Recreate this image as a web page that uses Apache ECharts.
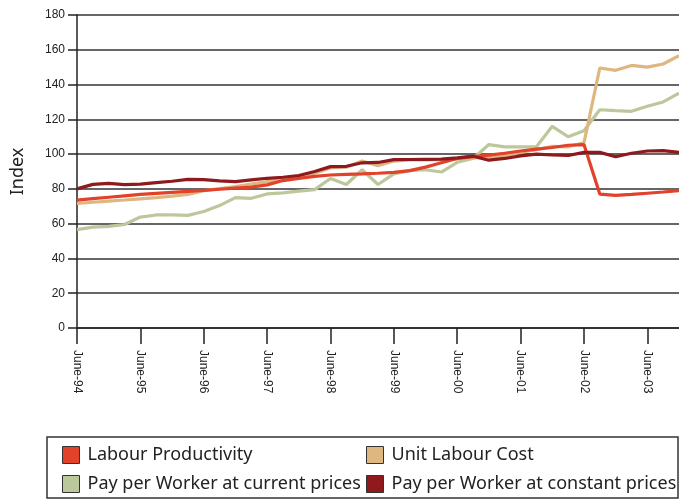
<!DOCTYPE html>
<html>
<head>
<meta charset="utf-8">
<script src="https://cdn.jsdelivr.net/npm/echarts@6/dist/echarts.min.js"></script>
<style>
  html, body { margin: 0; padding: 0; background: #fff; }
  #chart { width: 679px; height: 500px; }
</style>
</head>
<body>
<div id="chart"></div>
<script>
// quarters, June-94 .. Dec-03
var quarters = [
  'June-94', 'Sept-94', 'Dec-94', 'Mar-95',
  'June-95', 'Sept-95', 'Dec-95', 'Mar-96',
  'June-96', 'Sept-96', 'Dec-96', 'Mar-97',
  'June-97', 'Sept-97', 'Dec-97', 'Mar-98',
  'June-98', 'Sept-98', 'Dec-98', 'Mar-99',
  'June-99', 'Sept-99', 'Dec-99', 'Mar-00',
  'June-00', 'Sept-00', 'Dec-00', 'Mar-01',
  'June-01', 'Sept-01', 'Dec-01', 'Mar-02',
  'June-02', 'Sept-02', 'Dec-02', 'Mar-03',
  'June-03', 'Sept-03', 'Dec-03'
];

var labourProductivity = [
  73.5, 74.4, 75.2, 76, 76.8, 77.4, 78, 78.6, 79.2, 79.8, 80.4, 81,
  82.3, 84.8, 86, 87.2, 88, 88.3, 88.6, 89, 89.5, 90.5, 92.5, 95,
  97.5, 98.6, 99.4, 100.5, 101.8, 102.9, 103.8, 105.1, 105.5, 77, 76.3, 76.8,
  77.5, 78.2, 79
];
var unitLabourCost = [
  71.6, 72.3, 73, 73.6, 74.3, 75, 75.8, 76.8, 79, 80.2, 81.3, 82.8,
  84.2, 85.5, 87, 89, 92, 92.5, 96, 93.4, 96, 96.7, 96.7, 96.8,
  97.2, 97.8, 98.2, 99, 101, 102.5, 104.5, 104.2, 106.5, 149.5, 148.2, 151,
  150, 151.8, 156.6
];
var payCurrent = [
  56.6, 58, 58.4, 59.5, 63.8, 65, 65, 64.8, 67, 70.4, 75, 74.6,
  77.1, 77.7, 78.7, 79.6, 86, 82.5, 91, 82.5, 88.6, 90.5, 91, 89.7,
  95.3, 97.5, 105.5, 104.2, 104.2, 104.2, 116, 110, 113.5, 125.5, 125, 124.6,
  127.5, 130, 135
];
var payConstant = [
  80, 82.6, 83.2, 82.5, 82.7, 83.6, 84.4, 85.5, 85.3, 84.6, 84.2, 85.2,
  86.1, 86.7, 87.7, 90, 92.8, 93, 95, 95.2, 96.8, 96.9, 97, 97.1,
  97.8, 98.8, 96.5, 97.5, 99, 100, 99.5, 99.2, 101, 101, 98.5, 100.5,
  101.8, 102, 101
];

var names = ['Labour Productivity', 'Unit Labour Cost',
  'Pay per Worker at current prices', 'Pay per Worker at constant prices'];
var colors = ['#E2412A', '#DDB680', '#BCC89C', '#8E1A1E'];
var seriesData = [labourProductivity, unitLabourCost, payCurrent, payConstant];

var chart = echarts.init(document.getElementById('chart'));

var legendBase = {
  orient: 'vertical',
  icon: 'rect',
  itemWidth: 17,
  itemHeight: 17,
  itemGap: 11,
  padding: 0,
  top: 446,
  selectedMode: false,
  itemStyle: {borderColor: '#333', borderWidth: 1},
  textStyle: {fontFamily: 'Noto Sans', fontSize: 18, color: '#222', padding: [0, 0, 0, 3]}
};

// draw order: current pay under others, constant on top
var order = [2, 1, 0, 3];

chart.setOption({
  animation: false,
  color: colors,
  grid: {left: 77, right: 0, top: 15, bottom: 172, outerBoundsMode: 'none'},
  legend: [
    Object.assign({}, legendBase, {left: 62, data: [names[0], names[2]]}),
    Object.assign({}, legendBase, {left: 366, data: [names[1], names[3]]})
  ],
  graphic: [{
    type: 'rect',
    shape: {x: 47, y: 437, width: 631, height: 61},
    style: {fill: 'none', stroke: '#333', lineWidth: 1.5}
  }],
  xAxis: {
    type: 'category',
    boundaryGap: false,
    data: quarters,
    axisLine: {lineStyle: {color: '#222', width: 1.5}},
    axisTick: {interval: 3, length: 16, lineStyle: {color: '#222', width: 1.5}},
    axisLabel: {
      interval: 3, rotate: -90, margin: 22,
      fontFamily: 'Liberation Sans', fontSize: 12, color: '#222'
    },
    splitLine: {show: false}
  },
  yAxis: {
    type: 'value',
    min: 0, max: 180, interval: 20,
    name: 'Index',
    nameLocation: 'middle',
    nameGap: 50,
    nameTextStyle: {fontFamily: 'Noto Sans', fontSize: 18, color: '#222'},
    axisLine: {show: true, lineStyle: {color: '#222', width: 1.5}},
    axisTick: {show: true, length: 9, lineStyle: {color: '#222', width: 1.5}},
    axisLabel: {margin: 12, fontFamily: 'Liberation Sans', fontSize: 12, color: '#222'},
    splitLine: {lineStyle: {color: '#333', width: 1.5}}
  },
  series: order.map(function (k) {
    return {
      name: names[k],
      type: 'line',
      data: seriesData[k],
      symbol: 'none',
      z: 2 + order.indexOf(k),
      itemStyle: {color: colors[k]},
      lineStyle: {color: colors[k], width: 3.2}
    };
  })
});
</script>
</body>
</html>
